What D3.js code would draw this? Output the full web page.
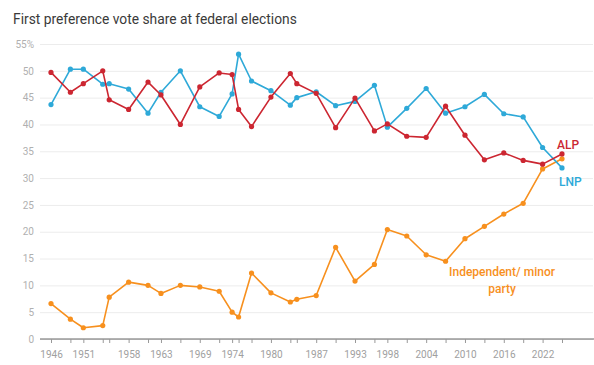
<!DOCTYPE html>
<html>
<head>
<meta charset="utf-8">
<script src="https://cdn.jsdelivr.net/npm/d3@7"></script>
<style>
  html, body { margin: 0; padding: 0; background: #fff; }
  svg { display: block; font-family: Roboto, "Open Sans", sans-serif; }
</style>
</head>
<body>
<svg id="chart" width="594" height="365"></svg>
<script>
// Federal election years
const years = [1946, 1949, 1951, 1954, 1955, 1958, 1961, 1963, 1966, 1969, 1972, 1974, 1975,
  1977, 1980, 1983, 1984, 1987, 1990, 1993, 1996, 1998, 2001, 2004, 2007, 2010, 2013, 2016,
  2019, 2022, 2025];

// First preference vote share (%)
const alp = [49.7, 46.0, 47.6, 50.0, 44.6, 42.8, 47.9, 45.5, 40.0, 47.0, 49.6, 49.3, 42.8,
  39.6, 45.1, 49.5, 47.6, 45.8, 39.4, 44.9, 38.8, 40.1, 37.8, 37.6, 43.4, 38.0, 33.4, 34.7,
  33.3, 32.6, 34.5];
const lnp = [43.7, 50.3, 50.3, 47.5, 47.6, 46.6, 42.1, 46.0, 50.0, 43.3, 41.5, 45.7, 53.1,
  48.1, 46.3, 43.6, 45.0, 46.1, 43.5, 44.3, 47.3, 39.5, 43.0, 46.7, 42.1, 43.3, 45.6, 42.0,
  41.4, 35.7, 31.9];
const other = [6.6, 3.7, 2.1, 2.5, 7.8, 10.6, 10.0, 8.5, 10.0, 9.7, 8.9, 5.0, 4.1,
  12.3, 8.6, 6.9, 7.4, 8.1, 17.1, 10.8, 13.9, 20.4, 19.2, 15.7, 14.5, 18.7, 21.0, 23.3,
  25.3, 31.7, 33.6];

const yTicks = [0, 5, 10, 15, 20, 25, 30, 35, 40, 45, 50, 55];
const xLabelYears = [1946, 1951, 1958, 1963, 1969, 1974, 1980, 1987, 1993, 1998, 2004, 2010, 2016, 2022];

const colors = { alp: "#cc2631", lnp: "#2ea9d8", other: "#f7901e" };

const svg = d3.select("#chart");

const x = d3.scaleLinear().domain([1946, 2025]).range([51, 562]);
const y = d3.scaleLinear().domain([0, 55]).range([339, 44]);

// Title
svg.append("text")
  .attr("x", 13).attr("y", 24)
  .attr("font-size", 13.8).attr("fill", "#3a3a3a")
  .text("First preference vote share at federal elections");

// Horizontal gridlines and y labels
const yAxis = d3.axisLeft(y)
  .tickValues(yTicks)
  .tickSize(-553)
  .tickPadding(6)
  .tickFormat(d => d === 55 ? "55%" : d);
const gy = svg.append("g").attr("transform", "translate(40,0)").call(yAxis);
gy.select(".domain").remove();
gy.selectAll(".tick line").attr("stroke", "#ececec").attr("stroke-width", 1);
gy.selectAll(".tick text").attr("fill", "#b0b0b0").attr("font-size", 10)
  .attr("font-family", "Roboto, sans-serif");

// Baseline
svg.append("line")
  .attr("x1", 40).attr("x2", 594)
  .attr("y1", y(0)).attr("y2", y(0))
  .attr("stroke", "#666").attr("stroke-width", 1);

// X axis: a tick for every election, labels on selected years
const xAxis = d3.axisBottom(x)
  .tickValues(years)
  .tickSize(4)
  .tickPadding(8)
  .tickFormat(d => xLabelYears.includes(d) ? d : "");
const gx = svg.append("g").attr("transform", `translate(0,${y(0)})`).call(xAxis);
gx.select(".domain").remove();
gx.selectAll(".tick line").attr("stroke", "#999");
gx.selectAll(".tick text").attr("fill", "#a0a0a0").attr("font-size", 10)
  .attr("font-family", "Roboto, sans-serif");

// Series lines with markers
const series = [
  { key: "other", values: other },
  { key: "lnp", values: lnp },
  { key: "alp", values: alp }
];
const line = d3.line().x((d, i) => x(years[i])).y(d => y(d));

series.forEach(s => {
  svg.append("path")
    .datum(s.values)
    .attr("fill", "none")
    .attr("stroke", colors[s.key])
    .attr("stroke-width", 1.6)
    .attr("stroke-linejoin", "round")
    .attr("d", line);
  svg.append("g").selectAll("circle")
    .data(s.values)
    .join("circle")
    .attr("cx", (d, i) => x(years[i]))
    .attr("cy", d => y(d))
    .attr("r", 2.6)
    .attr("fill", colors[s.key]);
});

// Series labels
svg.append("text")
  .attr("x", 557).attr("y", 149)
  .attr("font-size", 12).attr("font-weight", 500)
  .attr("fill", colors.alp).text("ALP");
svg.append("text")
  .attr("x", 559).attr("y", 186)
  .attr("font-size", 12).attr("font-weight", 500)
  .attr("fill", colors.lnp).text("LNP");
const lab = svg.append("text")
  .attr("text-anchor", "middle")
  .attr("font-size", 12).attr("font-weight", 500)
  .attr("fill", colors.other);
lab.append("tspan").attr("x", 502).attr("y", 276).text("Independent/ minor");
lab.append("tspan").attr("x", 502).attr("y", 293).text("party");
</script>
</body>
</html>
